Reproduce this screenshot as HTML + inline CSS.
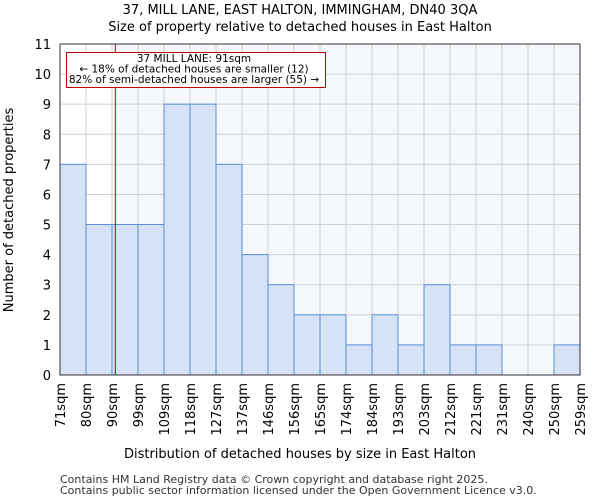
<!DOCTYPE html>
<html><head><meta charset="utf-8"><style>
body{margin:0;background:#fff;font-family:"DejaVu Sans","Liberation Sans",sans-serif}
</style></head><body>
<svg id="c" width="600" height="500" xmlns="http://www.w3.org/2000/svg" font-family="DejaVu Sans, Liberation Sans, sans-serif">
<text x="300" y="14" font-size="13" text-anchor="middle">37, MILL LANE, EAST HALTON, IMMINGHAM, DN40 3QA</text>
<text x="300" y="31" font-size="13" text-anchor="middle">Size of property relative to detached houses in East Halton</text>
<g id="plot"></g>
<text x="300" y="458" font-size="13" text-anchor="middle">Distribution of detached houses by size in East Halton</text>
<text transform="translate(13,210) rotate(-90)" font-size="13" text-anchor="middle">Number of detached properties</text>
<text x="60" y="483" font-size="11" fill="#333">Contains HM Land Registry data © Crown copyright and database right 2025.</text>
<text x="60" y="494" font-size="11" fill="#333">Contains public sector information licensed under the Open Government Licence v3.0.</text>
</svg>
<script>
const categories=["71sqm","80sqm","90sqm","99sqm","109sqm","118sqm","127sqm","137sqm","146sqm","156sqm","165sqm","174sqm","184sqm","193sqm","203sqm","212sqm","221sqm","231sqm","240sqm","250sqm","259sqm"];
const counts=[7,5,5,5,9,9,7,4,3,2,2,1,2,1,3,1,1,0,0,1];
const yTicks=[0,1,2,3,4,5,6,7,8,9,10,11];
const propertySize=91;
const binStart=71, binWidthSqm=9.4;
const NS="http://www.w3.org/2000/svg";
const L=60,R=580,T=44,B=375,yMax=11;
const bw=(R-L)/counts.length;
const x=i=>L+i*bw;
const y=v=>B-(v/yMax)*(B-T);
const g=document.getElementById('plot');
function mk(t,a,p){const e=document.createElementNS(NS,t);for(const k in a)e.setAttribute(k,a[k]);(p||g).appendChild(e);return e;}
const bin=Math.floor((propertySize-binStart)/binWidthSqm);
const mx=x(bin)+((propertySize-binStart)/binWidthSqm-bin)*bw;
const bg=mk('rect',{x:mx,y:T,width:R-mx,height:B-T,fill:'#f4f7fc'});


yTicks.forEach(v=>{
 const l=mk('line',{x1:L,x2:R,y1:y(v),y2:y(v),stroke:'#d0d0d0','stroke-width':1});
 
 
 const t=mk('text',{x:L-9,y:y(v)+5,'font-size':13,'text-anchor':'end'});
 t.textContent=v;
 
 
});
categories.forEach((c,i)=>{
 const l=mk('line',{x1:x(i),x2:x(i),y1:T,y2:B,stroke:'#d0d0d0','stroke-width':1});
 
 
 const t=mk('text',{transform:`translate(${x(i)+5},${B+8}) rotate(-90)`,'font-size':13,'text-anchor':'end'});
 t.textContent=c;
 
 
});
counts.forEach((v,i)=>{
 if(v<=0)return;
 const r=mk('rect',{x:x(i),y:y(v),width:bw,height:B-y(v),fill:'#d6e2f5',stroke:'#5b8fd6','stroke-width':1});
 
 
});
const ml=mk('line',{x1:mx,x2:mx,y1:T,y2:B,stroke:'#a00000','stroke-width':1});


const ax=mk('rect',{x:L,y:T,width:R-L,height:B-T,fill:'none',stroke:'#333','stroke-width':1});


const box=mk('rect',{x:66.5,y:52.5,width:259,height:35,fill:'#fff',stroke:'#c00000','stroke-width':1});


["37 MILL LANE: 91sqm","← 18% of detached houses are smaller (12)","82% of semi-detached houses are larger (55) →"].forEach((s,i)=>{
 const t=mk('text',{x:194,y:62+i*10.5,'font-size':10.5,'text-anchor':'middle'});
 t.textContent=s;
 
 
});
</script>
</body></html>
